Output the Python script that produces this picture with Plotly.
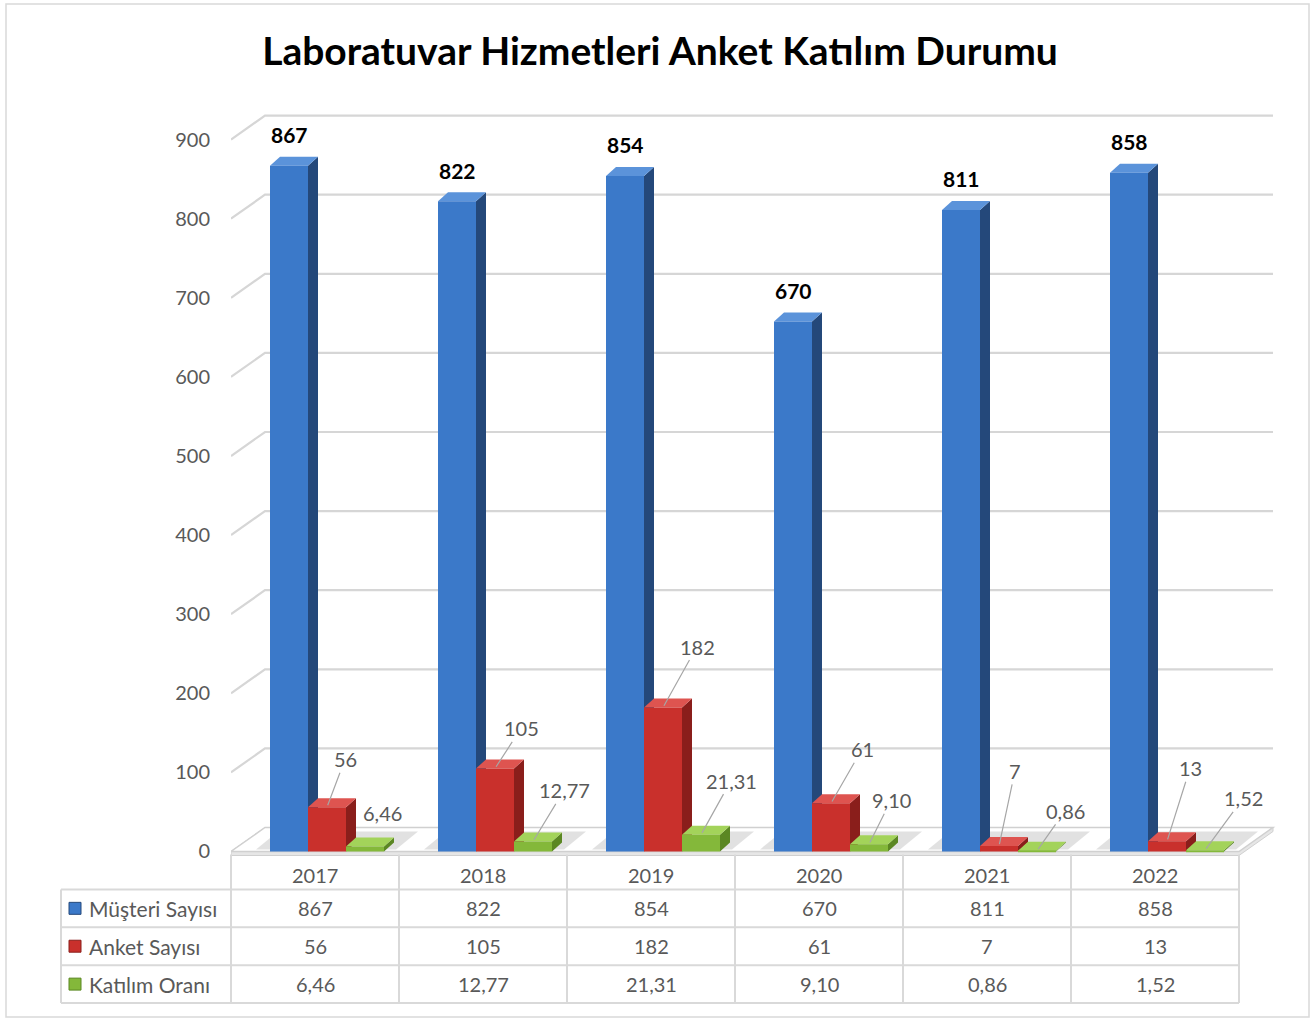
import plotly.graph_objects as go

# ---------------- data ----------------
years = ["2017", "2018", "2019", "2020", "2021", "2022"]
musteri_sayisi = [867, 822, 854, 670, 811, 858]
anket_sayisi = [56, 105, 182, 61, 7, 13]
katilim_orani = [6.46, 12.77, 21.31, 9.10, 0.86, 1.52]
series_names = ["Müşteri Sayısı", "Anket Sayısı", "Katılım Oranı"]
y_ticks = [0, 100, 200, 300, 400, 500, 600, 700, 800, 900]
title_text = "Laboratuvar Hizmetleri Anket Katılım Durumu"

# ---------------- layout geometry (pixels) ----------------
FIG_W, FIG_H = 1315, 1024
PLOT_L = 231           # front-left of category axis
PLOT_B = 854           # value 0 (front)
PLOT_T = 140           # value 900 (front)
CAT_PX = 168           # width of one category
BAR_PX = 38            # front face width of a bar
DX, DY = 10, 9         # bar depth (pixels)
WALL_DX, WALL_DY = 34, 24  # back wall offset
PPU = (PLOT_B - PLOT_T) / 900.0
DYU = DY / PPU
BAR_W = BAR_PX / CAT_PX
OFF0 = 39 / CAT_PX - 0.5
offsets = [OFF0, OFF0 + BAR_W, OFF0 + 2 * BAR_W]

X_RANGE = [-0.5, len(years) - 0.5 + 0.25]
Y_RANGE = [-10, 960]

def px(x):
    return x / FIG_W

def py(y):
    return 1 - y / FIG_H

x_dom = [px(PLOT_L), px(PLOT_L + (X_RANGE[1] - X_RANGE[0]) * CAT_PX)]
y_dom = [py(PLOT_B - Y_RANGE[0] * PPU), py(PLOT_B - Y_RANGE[1] * PPU)]

FONT = "Lato, 'Open Sans', sans-serif"
TXT = "#595959"

front_col = ["#3b79c9", "#c9302c", "#84b83a"]
side_col = ["#24487a", "#8a1e1b", "#5b8723"]
top_col = ["#5b93da", "#de5450", "#a3d35a"]
all_series = [musteri_sayisi, anket_sayisi, katilim_orani]

fig = go.Figure()
for j, (name, vals) in enumerate(zip(series_names, all_series)):
    fig.add_trace(go.Bar(
        x=list(range(len(years))), y=vals, name=name,
        width=BAR_W, offset=offsets[j],
        marker=dict(color=front_col[j], line=dict(width=0)),
        showlegend=False, hoverinfo="skip",
    ))

shapes = []
# outer border
shapes.append(dict(type="rect", xref="paper", yref="paper",
                   x0=px(6), x1=px(1309), y0=py(1020), y1=py(4),
                   line=dict(color="#d9d9d9", width=1.5), layer="below"))

floor_w = CAT_PX * len(years)
# floor slab (thickness) and top
shapes.append(dict(type="path", xref="x", yref="y", xsizemode="pixel", ysizemode="pixel",
                   xanchor=-0.5, yanchor=0,
                   path=f"M0,-4 L{floor_w},-4 L{floor_w + WALL_DX},{WALL_DY - 4} "
                        f"L{floor_w + WALL_DX},{WALL_DY} L{WALL_DX},{WALL_DY} L0,0 Z",
                   fillcolor="#e6e6e6", line=dict(color="#d0d0d0", width=1), layer="below"))
shapes.append(dict(type="path", xref="x", yref="y", xsizemode="pixel", ysizemode="pixel",
                   xanchor=-0.5, yanchor=0,
                   path=f"M0,0 L{floor_w},0 L{floor_w + WALL_DX},{WALL_DY} L{WALL_DX},{WALL_DY} Z",
                   fillcolor="#ffffff", line=dict(color="#d0d0d0", width=1.5), layer="below"))
# soft shadows on the floor behind each group
for i in range(len(years)):
    shapes.append(dict(type="path", xref="x", yref="y", xsizemode="pixel", ysizemode="pixel",
                       xanchor=i + offsets[0], yanchor=0,
                       path=f"M-14,2 L{3 * BAR_PX + 12},2 L{3 * BAR_PX + 34},{WALL_DY - 4} L8,{WALL_DY - 4} Z",
                       fillcolor="rgba(90,90,90,0.18)", line=dict(width=0), layer="below"))

# gridlines on back wall + left wall diagonals
for t in y_ticks[1:]:
    shapes.append(dict(type="path", xref="x", yref="y", xsizemode="pixel", ysizemode="pixel",
                       xanchor=-0.5, yanchor=t,
                       path=f"M0,0 L{WALL_DX},{WALL_DY} L{floor_w + WALL_DX},{WALL_DY}",
                       line=dict(color="#d6d6d6", width=2.2), layer="below"))

# 3D faces of bars
for i in range(len(years)):
    for j, vals in enumerate(all_series):
        v = vals[i]
        xl = i + offsets[j]
        xr = xl + BAR_W
        # side face
        shapes.append(dict(type="path", xref="x", yref="y", xsizemode="pixel", ysizemode="scaled",
                           xanchor=xr,
                           path=f"M0,0 L0,{v} L{DX},{v + DYU} L{DX},{DYU} Z",
                           fillcolor=side_col[j], line=dict(width=0), layer="between"))
        # top face
        shapes.append(dict(type="path", xref="x", yref="y", xsizemode="pixel", ysizemode="pixel",
                           xanchor=xl, yanchor=v,
                           path=f"M0,0 L{BAR_PX},0 L{BAR_PX + DX},{DY} L{DX},{DY} Z",
                           fillcolor=top_col[j], line=dict(width=0), layer="between"))

# ---------------- data table ----------------
TBL_L = 61
row_lines = [892, 930, 968, 1006]
row_centers = [911, 949, 987]
header_center = 878
tbl_r = PLOT_L + floor_w
line_style = dict(color="#d9d9d9", width=2)
for yl in row_lines:
    shapes.append(dict(type="line", xref="paper", yref="paper", x0=px(TBL_L), x1=px(tbl_r),
                       y0=py(yl), y1=py(yl), line=line_style, layer="above"))
shapes.append(dict(type="line", xref="paper", yref="paper", x0=px(TBL_L), x1=px(TBL_L),
                   y0=py(row_lines[0]), y1=py(row_lines[-1]), line=line_style, layer="above"))
for k in range(len(years) + 1):
    xk = PLOT_L + k * CAT_PX
    shapes.append(dict(type="line", xref="paper", yref="paper", x0=px(xk), x1=px(xk),
                       y0=py(857), y1=py(row_lines[-1]), line=line_style, layer="above"))
# legend keys
for j in range(3):
    yc = row_centers[j]
    shapes.append(dict(type="rect", xref="paper", yref="paper",
                       x0=px(69), x1=px(81), y0=py(yc + 6), y1=py(yc - 6),
                       fillcolor=front_col[j], line=dict(color=side_col[j], width=1), layer="above"))

annotations = []
# year header
for i, yr in enumerate(years):
    annotations.append(dict(x=i, y=py(header_center), xref="x", yref="paper", text=yr,
                            xanchor="center", yanchor="middle",
                            showarrow=False, font=dict(family=FONT, size=20, color=TXT)))

def fmt(v):
    if isinstance(v, float):
        return f"{v:.2f}".replace(".", ",")
    return str(v)

for j, (name, vals) in enumerate(zip(series_names, all_series)):
    yc = row_centers[j]
    annotations.append(dict(x=px(87), y=py(yc), xref="paper", yref="paper", text=name,
                            xanchor="left", yanchor="middle", showarrow=False,
                            font=dict(family=FONT, size=21, color=TXT)))
    for i, v in enumerate(vals):
        annotations.append(dict(x=i, y=py(yc), xref="x", yref="paper", text=fmt(v),
                                xanchor="center", yanchor="middle",
                                showarrow=False, font=dict(family=FONT, size=20, color=TXT)))

# data labels: blue bold above bars
for i, v in enumerate(musteri_sayisi):
    annotations.append(dict(x=i + offsets[0] + BAR_W / 2, y=v, xref="x", yref="y",
                            text=f"<b>{v}</b>", showarrow=False, yshift=31,
                            xanchor="center", yanchor="middle",
                            font=dict(family=FONT, size=21, color="#000000")))

# label offsets (pixels) for red and green series, with leader lines
red_label_offsets = [(18, -48), (26, -40), (34, -61), (31, -54), (16, -75), (23, -73)]
green_label_offsets = [(17, -33), (31, -51), (30, -54), (22, -44), (28, -40), (38, -52)]
green_leader = [False, True, True, True, True, True]
for j, vals, offs in [(1, anket_sayisi, red_label_offsets), (2, katilim_orani, green_label_offsets)]:
    for i, v in enumerate(vals):
        ax, ay = offs[i]
        lead = True if j == 1 else green_leader[i]
        annotations.append(dict(x=i + offsets[j] + BAR_W / 2, y=v, xref="x", yref="y",
                                text=fmt(v), showarrow=True, arrowhead=0, arrowwidth=1.2,
                                arrowcolor="#a6a6a6" if lead else "rgba(0,0,0,0)",
                                ax=ax, ay=ay, standoff=2,
                                font=dict(family=FONT, size=20, color=TXT)))

fig.update_layout(
    width=FIG_W, height=FIG_H, autosize=False,
    margin=dict(l=0, r=0, t=0, b=0),
    paper_bgcolor="white", plot_bgcolor="rgba(0,0,0,0)",
    barmode="overlay",
    title=dict(text=f"<b>{title_text}</b>", x=px(660), xanchor="center",
               y=py(51), yanchor="middle", yref="container",
               font=dict(family=FONT, size=39, color="#000000")),
    xaxis=dict(domain=x_dom, range=X_RANGE, showticklabels=False, showgrid=False,
               zeroline=False, showline=False, ticks=""),
    yaxis=dict(domain=y_dom, range=Y_RANGE, tickvals=y_ticks,
               ticktext=[str(t) for t in y_ticks], showgrid=False, zeroline=False,
               showline=False, ticks="", ticklabelstandoff=20,
               tickfont=dict(family=FONT, size=20, color=TXT)),
    shapes=shapes, annotations=annotations,
)

fig.write_html("out.html", config={"displayModeBar": False},
               post_script="document.body.style.margin='0';")
